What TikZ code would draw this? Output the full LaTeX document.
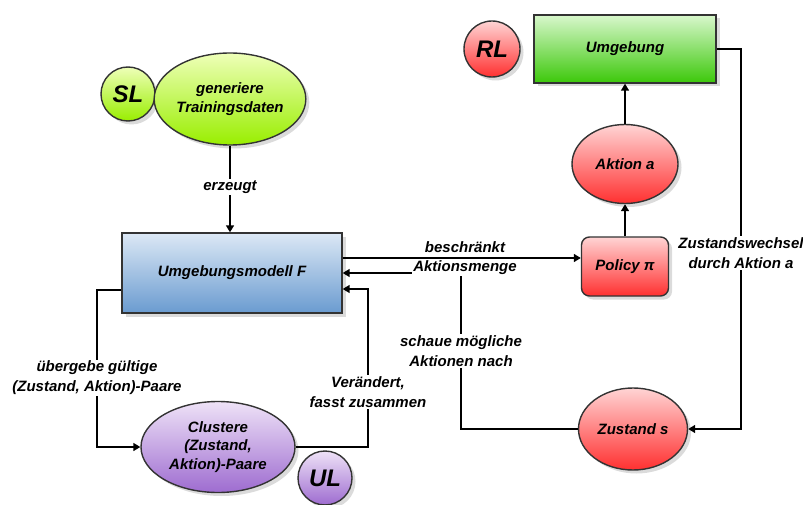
\documentclass[tikz,border=0pt]{standalone}
\usepackage{fontspec}
\setmainfont{Liberation Sans}
\usetikzlibrary{shapes.geometric,shadows,arrows.meta}

\definecolor{edge}{HTML}{333333}
\definecolor{greenT}{HTML}{EEFFB8}
\definecolor{greenB}{HTML}{99EE00}
\definecolor{blueT}{HTML}{DCE8F5}
\definecolor{blueB}{HTML}{6A9BD0}
\definecolor{envT}{HTML}{D8F7CC}
\definecolor{envB}{HTML}{3CC80A}
\definecolor{redT}{HTML}{FFD4D4}
\definecolor{redB}{HTML}{FF3030}
\definecolor{violT}{HTML}{EEE2F7}
\definecolor{violB}{HTML}{9E6CD0}

\tikzset{
  txt/.style={font=\fontsize{15}{18.5}\selectfont\bfseries\itshape, align=center},
  base/.style={txt, draw=edge, line width=1.4pt,
    drop shadow={shadow xshift=3.5pt, shadow yshift=-3.5pt, fill=black!28}},
  greenfill/.style={top color=greenT, bottom color=greenB},
  bluefill/.style={top color=blueT, bottom color=blueB},
  envfill/.style={top color=envT, bottom color=envB},
  redfill/.style={top color=redT, bottom color=redB},
  violfill/.style={top color=violT, bottom color=violB},
  oval/.style={base, ellipse, inner sep=0pt},
  tag/.style={base, circle, inner sep=0pt, minimum size=54pt,
    font=\fontsize{24}{24}\selectfont\bfseries\itshape},
  lbl/.style={txt, fill=white, inner sep=1.5pt, font=\fontsize{15}{20}\selectfont\bfseries\itshape},
  arr/.style={line width=1.6pt, -{Triangle[length=7pt,width=8pt]}},
}

\begin{document}
\begin{tikzpicture}[x=1pt, y=-1pt]
\useasboundingbox (0,0) rectangle (803,505);

% supervised part
\node[tag, greenfill] (sl) at (128,94) {SL};
\node[oval, greenfill, minimum width=136pt, minimum height=92pt] (gen) at (230,99)
  {generiere\\Trainingsdaten};

% environment model
\node[base, bluefill, minimum width=220pt, minimum height=80pt, inner sep=0pt] (model) at (232,273)
  {Umgebungsmodell F};

% unsupervised part
\node[oval, violfill, minimum width=154pt, minimum height=91pt] (clust) at (218,447)
  {Clustere\\(Zustand,\\Aktion)-Paare};
\node[tag, violfill] (ul) at (325,478) {UL};

% reinforcement part
\node[tag, redfill, minimum size=56pt] (rl) at (492,49) {RL};
\node[base, envfill, minimum width=182pt, minimum height=68pt, inner sep=0pt] (umg) at (625,49) {Umgebung};
\node[oval, redfill, minimum width=106pt, minimum height=79pt] (aktion) at (625,164) {Aktion a};
\node[base, redfill, rounded corners=8pt, minimum width=87pt, minimum height=59pt, inner sep=0pt] (policy) at (625,266.5) {Policy π};
\node[oval, redfill, minimum width=109pt, minimum height=82pt] (zust) at (633,429) {Zustand s};

% turning points of the connectors
\coordinate (tA) at (461,429);
\coordinate (tB) at (368,447);
\coordinate (tC) at (97,290);
\coordinate (tD) at (741,49);

% connectors
\draw[arr] (gen.south) -- (gen.south |- model.north);
\draw[arr] ([yshift=15pt]model.east) -- ([yshift=15pt]model.east -| policy.west);
\draw[arr] (zust.west) -- (tA) |- (model.east);
\draw[arr] (clust.east) -- (tB) |- ([yshift=-16pt]model.east);
\draw[arr] (model.west |- tC) -- (tC) |- (clust.west);
\draw[arr] (umg.east) -- (tD) |- (zust.east);
\draw[arr] (policy.north) -- (aktion.south);
\draw[arr] (aktion.north) -- (umg.south);

% connector labels
\node[lbl] (lerz) at (230,187) {erzeugt};
\node[txt, inner sep=1pt] (lbes) at (465,247) {beschränkt};
\node[lbl] (lakt) at (465,268) {Aktionsmenge};
\node[lbl] (lsch) at (461,351) {schaue mögliche\\Aktionen nach};
\node[lbl] (lver) at (368,392) {Verändert,\\fasst zusammen};
\node[lbl] (lueb) at (97,378) {übergebe gültige\\(Zustand, Aktion)-Paare};
\node[lbl] (lzus) at (741,253) {Zustandswechsel\\durch Aktion a};
\end{tikzpicture}
\end{document}
